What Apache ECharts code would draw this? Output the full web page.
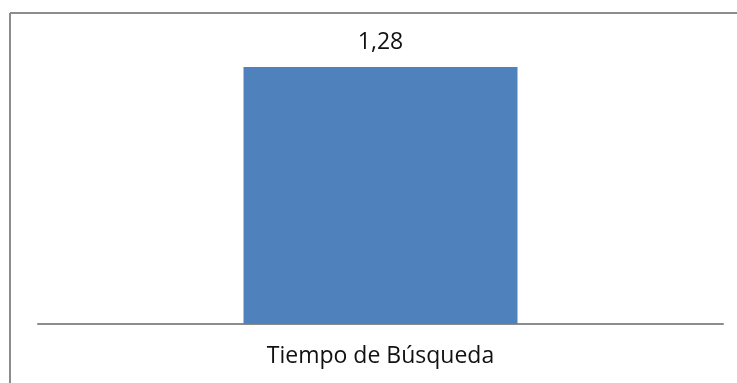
<!DOCTYPE html>
<html>
<head>
<meta charset="utf-8">
<script src="https://cdn.jsdelivr.net/npm/echarts@6/dist/echarts.min.js"></script>
<style>
  html, body { margin: 0; padding: 0; background: #ffffff; }
  #chart { width: 737px; height: 383px; }
</style>
</head>
<body>
<div id="chart"></div>
<script>
// Chart data
const categories = ['Tiempo de Búsqueda'];
const values = [1.28];

const fontFamily = '"Open Sans", "Noto Sans", sans-serif';

const chart = echarts.init(document.getElementById('chart'), null, { renderer: 'canvas' });

chart.setOption({
  animation: false,
  backgroundColor: '#ffffff',
  graphic: [
    // outer frame: top and left edges of the chart area border
    { type: 'line', shape: { x1: 10, y1: 13, x2: 737, y2: 13 }, style: { stroke: '#8c8c8c', lineWidth: 2 } },
    { type: 'line', shape: { x1: 10, y1: 13, x2: 10, y2: 383 }, style: { stroke: '#8c8c8c', lineWidth: 2 } }
  ],
  grid: { left: 38, right: 14, top: 43, bottom: 59, containLabel: false },
  xAxis: {
    type: 'category',
    data: categories,
    axisLine: { show: true, lineStyle: { color: '#8c8c8c', width: 2 } },
    axisTick: { show: false },
    axisLabel: { color: '#111111', fontSize: 23, fontFamily: fontFamily, margin: 21, lineHeight: 23 }
  },
  yAxis: {
    type: 'value',
    min: 0,
    max: 1.4,
    show: false,
    splitLine: { show: false }
  },
  series: [{
    type: 'bar',
    data: values,
    barWidth: '40%',
    itemStyle: { color: '#4f81bd' },
    label: {
      show: true,
      position: 'top',
      distance: 13,
      color: '#111111',
      fontSize: 23,
      lineHeight: 23,
      fontFamily: fontFamily,
      formatter: p => p.value.toFixed(2).replace('.', ',')
    }
  }]
});
</script>
</body>
</html>
